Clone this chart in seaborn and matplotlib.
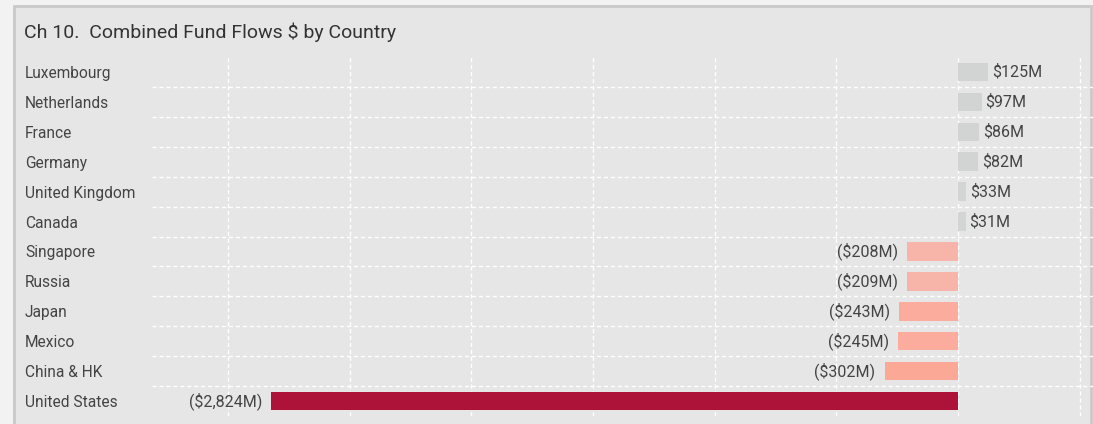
import matplotlib
matplotlib.use("Agg")
import matplotlib.pyplot as plt
import matplotlib.patches as mpatches
import seaborn as sns
import pandas as pd
import numpy as np

# Combined fund flows by country, $ millions
countries = ["Luxembourg", "Netherlands", "France", "Germany", "United Kingdom",
             "Canada", "Singapore", "Russia", "Japan", "Mexico", "China & HK",
             "United States"]
flows = [125, 97, 86, 82, 33, 31, -208, -209, -243, -245, -302, -2824]
bar_colors = ["#d2d4d4", "#d2d3d3", "#d2d3d3", "#d2d3d3", "#d3d4d4", "#d3d4d4",
              "#f7b5aa", "#f7b5aa", "#fbac9c", "#fbac9c", "#fba996", "#ad1238"]

title = "Ch 10.  Combined Fund Flows $ by Country"

def fmt(v):
    s = f"${abs(v):,}M"
    return s if v >= 0 else f"({s})"

df = pd.DataFrame({"country": countries, "flow": flows})

sns.set_theme(style="white")
plt.rcParams["font.family"] = ["Roboto", "DejaVu Sans"]

W, H = 1093, 424
fig = plt.figure(figsize=(W / 100, H / 100), dpi=100)
fig.patch.set_facecolor("#f2f2f2")

# panel background with a grey frame
panel = mpatches.Rectangle((14 / W, -0.05), (1091 - 14) / W, (H - 6) / H + 0.05,
                           transform=fig.transFigure, facecolor="#e6e6e6",
                           edgecolor="#c9c9c9", linewidth=2.0, zorder=-5)
fig.patches.append(panel)

fig.text(24 / W, 1 - 32 / H, title, fontsize=14, color="#333333",
         va="center", ha="left")

ax = fig.add_axes([152 / W, 1 - 416 / H, (1093 - 152) / W, (416 - 57) / H])
ax.set_facecolor("none")

sns.barplot(data=df, y="country", x="flow", hue="country",
            palette=dict(zip(countries, bar_colors)), orient="h",
            width=0.62, legend=False, ax=ax, saturation=1, zorder=3,
            linewidth=0, edgecolor="none")

ax.set_xlim(-3313, 555)
ax.set_ylim(11.5, -0.5)
ax.set_xticks(np.arange(-3000, 501, 500))
ax.set_xticklabels([])
ax.set_yticks(range(len(countries)))
ax.set_yticklabels(countries, ha="left", fontsize=11.2, color="#444444")
ax.set_yticks(np.arange(0.5, len(countries) - 1, 1.0), minor=True)
ax.tick_params(axis="y", which="both", length=0, pad=(152 - 25) * 0.72)
ax.tick_params(axis="x", length=0)
ax.set_xlabel("")
ax.set_ylabel("")

ax.grid(False)
ax.grid(axis="x", which="major", color="white", linestyle=(0, (3, 2)), linewidth=1.0, zorder=1)
ax.grid(axis="y", which="minor", color="white", linestyle=(0, (3, 2)), linewidth=1.0, zorder=1)
ax.set_axisbelow(True)
for s in ax.spines.values():
    s.set_visible(False)

# value labels
for i, v in enumerate(flows):
    if v >= 0:
        ax.annotate(fmt(v), (v, i), xytext=(4, 0), textcoords="offset pixels",
                    ha="left", va="center", fontsize=11.5, color="#444444")
    else:
        ax.annotate(fmt(v), (v, i), xytext=(-9, 0), textcoords="offset pixels",
                    ha="right", va="center", fontsize=11.5, color="#444444")

fig.savefig("out.png", dpi=100, facecolor=fig.get_facecolor())
